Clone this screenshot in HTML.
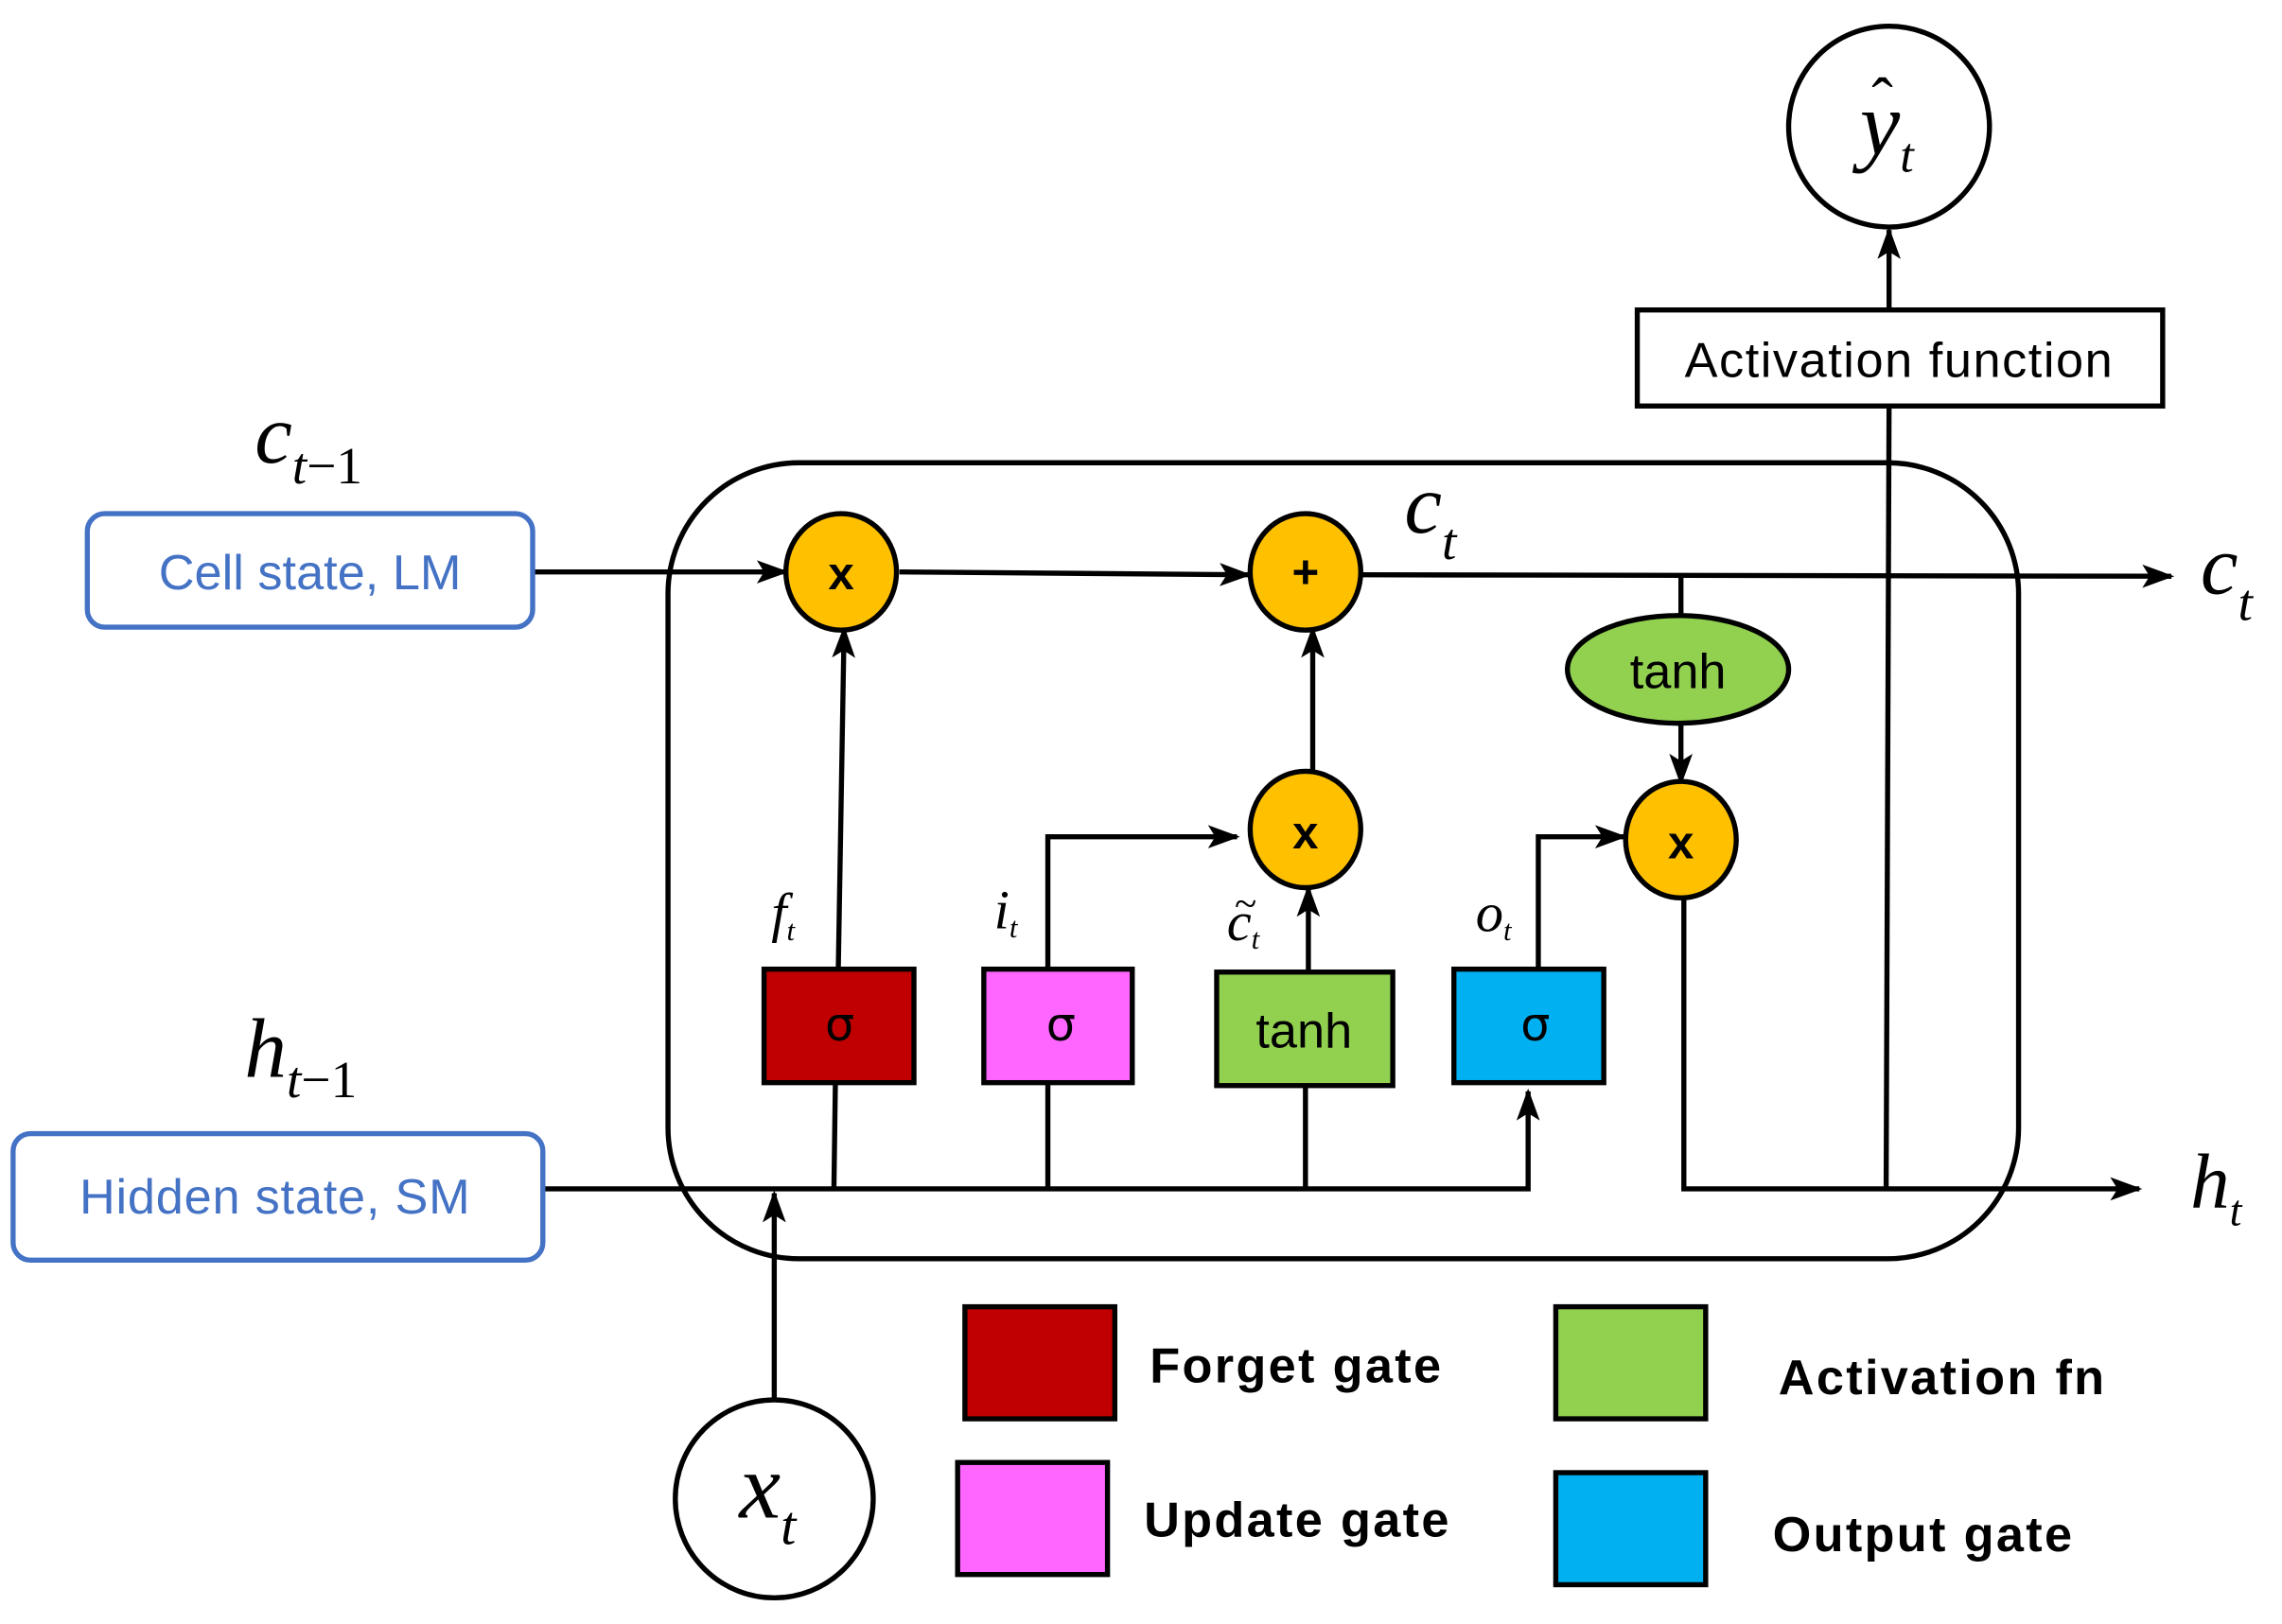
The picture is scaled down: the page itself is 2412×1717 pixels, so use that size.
<!DOCTYPE html>
<html><head><style>html,body{margin:0;padding:0;background:#fff}svg{display:block}</style></head>
<body>
<svg width="2412" height="1717" viewBox="0 0 1568 1116" preserveAspectRatio="none" xmlns="http://www.w3.org/2000/svg">
<defs>
<marker id="b" markerWidth="22" markerHeight="16" refX="20" refY="8" orient="auto" markerUnits="userSpaceOnUse">
<path d="M0,0 L22,8 L0,16 L5,8 z" fill="#000"/>
</marker>
</defs>
<g fill="none" stroke="#000" stroke-width="3.5">
<rect x="459" y="318" width="928" height="547" rx="90" ry="90"/>
<line x1="366" y1="393" x2="540" y2="393" marker-end="url(#b)"/>
<line x1="618" y1="393" x2="858" y2="395" marker-end="url(#b)"/>
<line x1="936" y1="395" x2="1492" y2="396" marker-end="url(#b)"/>
<line x1="1155" y1="395" x2="1155" y2="423"/>
<line x1="1155" y1="497" x2="1155" y2="538" marker-end="url(#b)"/>
<line x1="576" y1="666" x2="580" y2="432" marker-end="url(#b)"/>
<polyline points="720,666 720,575 850,575" marker-end="url(#b)"/>
<line x1="899" y1="668" x2="899" y2="610" marker-end="url(#b)"/>
<line x1="902" y1="531" x2="902" y2="432" marker-end="url(#b)"/>
<polyline points="1057,666 1057,575 1116,575" marker-end="url(#b)"/>
<polyline points="373,817 1050,817 1050,750" marker-end="url(#b)"/>
<line x1="573" y1="817" x2="574" y2="744"/>
<line x1="720" y1="817" x2="720" y2="744"/>
<line x1="897" y1="817" x2="897" y2="746"/>
<polyline points="1157,615 1157,817 1470,817" marker-end="url(#b)"/>
<line x1="1296" y1="817" x2="1298" y2="280"/>
<line x1="1298" y1="213" x2="1298" y2="158" marker-end="url(#b)"/>
<line x1="532" y1="962" x2="532" y2="820" marker-end="url(#b)"/>
</g>
<rect x="60" y="353" width="306" height="78" rx="12" fill="#fff" stroke="#4472C4" stroke-width="3.5"/>
<text x="213" y="405" font-family="Liberation Sans, sans-serif" font-size="34" fill="#4472C4" text-anchor="middle">Cell state,  LM</text>
<rect x="9" y="779" width="364" height="87" rx="12" fill="#fff" stroke="#4472C4" stroke-width="3.5"/>
<text x="189" y="834" font-family="Liberation Sans, sans-serif" font-size="34" fill="#4472C4" text-anchor="middle" letter-spacing="0.5">Hidden state,  SM</text>
<g stroke="#000" stroke-width="3.5" fill="#FFC000">
<ellipse cx="578" cy="393" rx="38" ry="40"/>
<ellipse cx="897" cy="393" rx="38" ry="40"/>
<ellipse cx="897" cy="570" rx="38" ry="40"/>
<ellipse cx="1155" cy="577" rx="38" ry="40"/>
<ellipse cx="1153" cy="460" rx="76" ry="37" fill="#92D050"/>
</g>
<g font-family="Liberation Sans, sans-serif" font-weight="bold" font-size="32" text-anchor="middle">
<text x="578" y="405">x</text><text x="897" y="404">+</text><text x="897" y="583">x</text><text x="1155" y="590">x</text>
</g>
<text x="1153" y="473" font-family="Liberation Sans, sans-serif" font-size="34" text-anchor="middle">tanh</text>
<g stroke="#000" stroke-width="3.5">
<rect x="525" y="666" width="103" height="78" fill="#C00000"/>
<rect x="676" y="666" width="102" height="78" fill="#FF66FF"/>
<rect x="836" y="668" width="121" height="78" fill="#92D050"/>
<rect x="999" y="666" width="103" height="78" fill="#00B0F0"/>
</g>
<g font-family="DejaVu Sans, sans-serif" font-size="32" text-anchor="middle">
<text x="577" y="715">σ</text><text x="729" y="715">σ</text><text x="1055" y="715">σ</text>
</g>
<text x="896" y="720" font-family="Liberation Sans, sans-serif" font-size="34" text-anchor="middle">tanh</text>
<g font-family="Liberation Serif, serif" font-style="italic" font-size="38">
<text x="530" y="640">f<tspan font-size="20" dy="6">t</tspan></text>
<text x="683" y="638">i<tspan font-size="20" dy="6">t</tspan></text>
<text x="843" y="646">c<tspan font-size="20" dy="6">t</tspan></text>
<text x="848" y="630" font-size="28">~</text>
<text x="1014" y="640">o<tspan font-size="20" dy="6">t</tspan></text>
</g>
<g font-family="Liberation Serif, serif" font-style="italic">
<text x="175" y="318" font-size="58">c<tspan font-size="36" dy="14">t</tspan><tspan font-style="normal" font-size="36">−1</tspan></text>
<text x="965" y="366" font-size="58">c<tspan font-size="36" dy="18">t</tspan></text>
<text x="1512" y="408" font-size="58">c<tspan font-size="36" dy="18">t</tspan></text>
<text x="168" y="740" font-size="58">h<tspan font-size="36" dy="14">t</tspan><tspan font-style="normal" font-size="36">−1</tspan></text>
<text x="1505" y="830" font-size="54">h<tspan font-size="30" dy="12">t</tspan></text>
</g>
<rect x="1125" y="213" width="361" height="66" fill="#fff" stroke="#000" stroke-width="3.5"/>
<text x="1305" y="259" font-family="Liberation Sans, sans-serif" font-size="34" text-anchor="middle" letter-spacing="1">Activation  function</text>
<circle cx="1298" cy="87" r="69" fill="#fff" stroke="#000" stroke-width="3.5"/>
<text x="1278" y="106" font-family="Liberation Serif, serif" font-style="italic" font-size="62">y<tspan font-size="34" dy="12">t</tspan></text>
<text x="1286" y="84" font-family="Liberation Serif, serif" font-size="44">ˆ</text>
<circle cx="532" cy="1030" r="68" fill="#fff" stroke="#000" stroke-width="3.5"/>
<text x="508" y="1043" font-family="Liberation Serif, serif" font-style="italic" font-size="64">x<tspan font-size="38" dy="18">t</tspan></text>
<g stroke="#000" stroke-width="3.5">
<rect x="663" y="898" width="103" height="77" fill="#C00000"/>
<rect x="658" y="1005" width="103" height="77" fill="#FF66FF"/>
<rect x="1069" y="898" width="103" height="77" fill="#92D050"/>
<rect x="1069" y="1012" width="103" height="77" fill="#00B0F0"/>
</g>
<g font-family="Liberation Sans, sans-serif" font-weight="bold" font-size="34" letter-spacing="1.5">
<text x="790" y="950">Forget gate</text>
<text x="786" y="1056">Update gate</text>
<text x="1222" y="958">Activation fn</text>
<text x="1218" y="1066">Output gate</text>
</g>
</svg>
</body></html>
